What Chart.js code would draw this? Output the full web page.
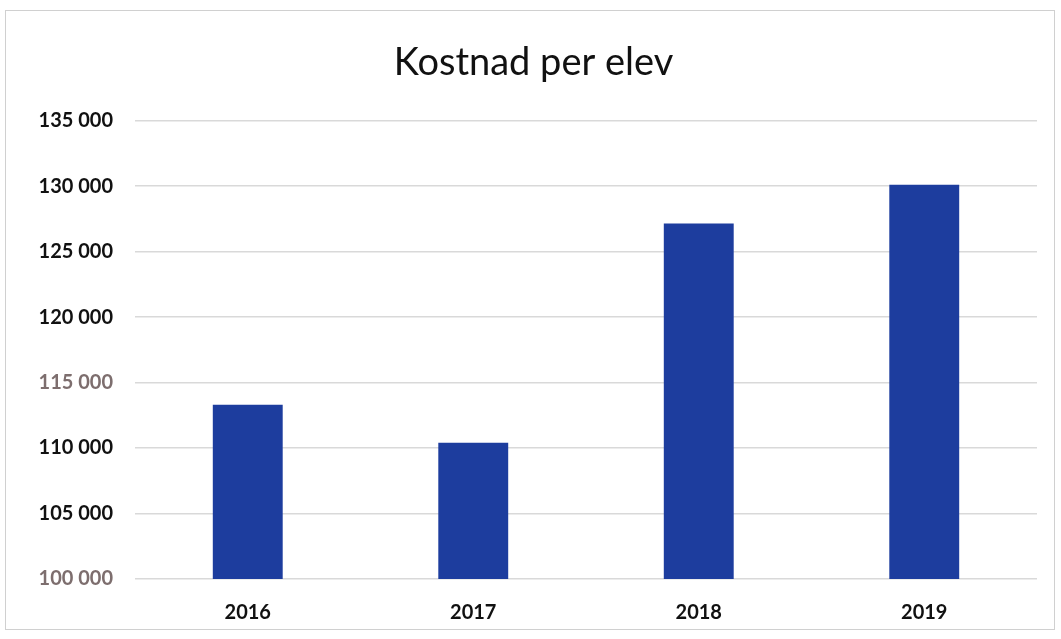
<!DOCTYPE html>
<html>
<head>
<meta charset="utf-8">
<script src="https://cdn.jsdelivr.net/npm/chart.js@4"></script>
<style>
  html, body { margin: 0; padding: 0; background: #fff; }
  #frame {
    position: absolute; left: 5px; top: 10px;
    width: 1050px; height: 620px;
    border: 1px solid #d0d0d0; box-sizing: border-box;
  }
  #chart { display: block; }
</style>
</head>
<body>
<div id="frame"><canvas id="chart" width="1048" height="618"></canvas></div>
<script>
// chart data
const years = ['2016', '2017', '2018', '2019'];
const costPerStudent = [113300, 110400, 127150, 130100];
const yTicks = [100000, 105000, 110000, 115000, 120000, 125000, 130000, 135000];
const grayTicks = [100000, 115000]; // faded labels in the scan

function fmt(v) {
    return String(v).replace(/\B(?=(\d{3})+(?!\d))/g, ' ');
}

document.addEventListener('DOMContentLoaded', () => {
    const ctx = document.getElementById('chart').getContext('2d');
    new Chart(ctx, {
        type: 'bar',
        data: {
            labels: years,
            datasets: [{
                label: 'Kostnad per elev',
                data: costPerStudent,
                backgroundColor: '#1d3d9e',
                barPercentage: 0.31,
                categoryPercentage: 1
            }]
        },
        options: {
            responsive: false,
            animation: false,
            layout: { padding: { left: 24, right: 17, top: 0, bottom: 0 } },
            plugins: {
                legend: { display: false },
                tooltip: { enabled: false },
                title: {
                    display: true,
                    text: 'Kostnad per elev',
                    color: '#111',
                    font: { family: 'Lato', size: 38, weight: 'normal' },
                    padding: { top: 29, bottom: 35 }
                }
            },
            scales: {
                x: {
                    grid: { display: false },
                    border: { display: false },
                    afterFit: s => { s.height = 50; },
                    ticks: {
                        color: '#111',
                        padding: 14,
                        font: { family: 'Lato', size: 20, weight: 'bold' }
                    }
                },
                y: {
                    min: yTicks[0],
                    max: yTicks[yTicks.length - 1],
                    afterBuildTicks: s => { s.ticks = yTicks.map(v => ({ value: v })); },
                    afterFit: s => { s.width = 105; },
                    grid: { color: '#d9d9d9', lineWidth: 1.5, drawTicks: false },
                    border: { display: false },
                    ticks: {
                        padding: 22,
                        font: { family: 'Lato', size: 20, weight: 'bold' },
                        color: c => grayTicks.includes(c.tick.value) ? '#7d6e6e' : '#111',
                        callback: v => fmt(v)
                    }
                }
            }
        }
    });
});
</script>
</body>
</html>
